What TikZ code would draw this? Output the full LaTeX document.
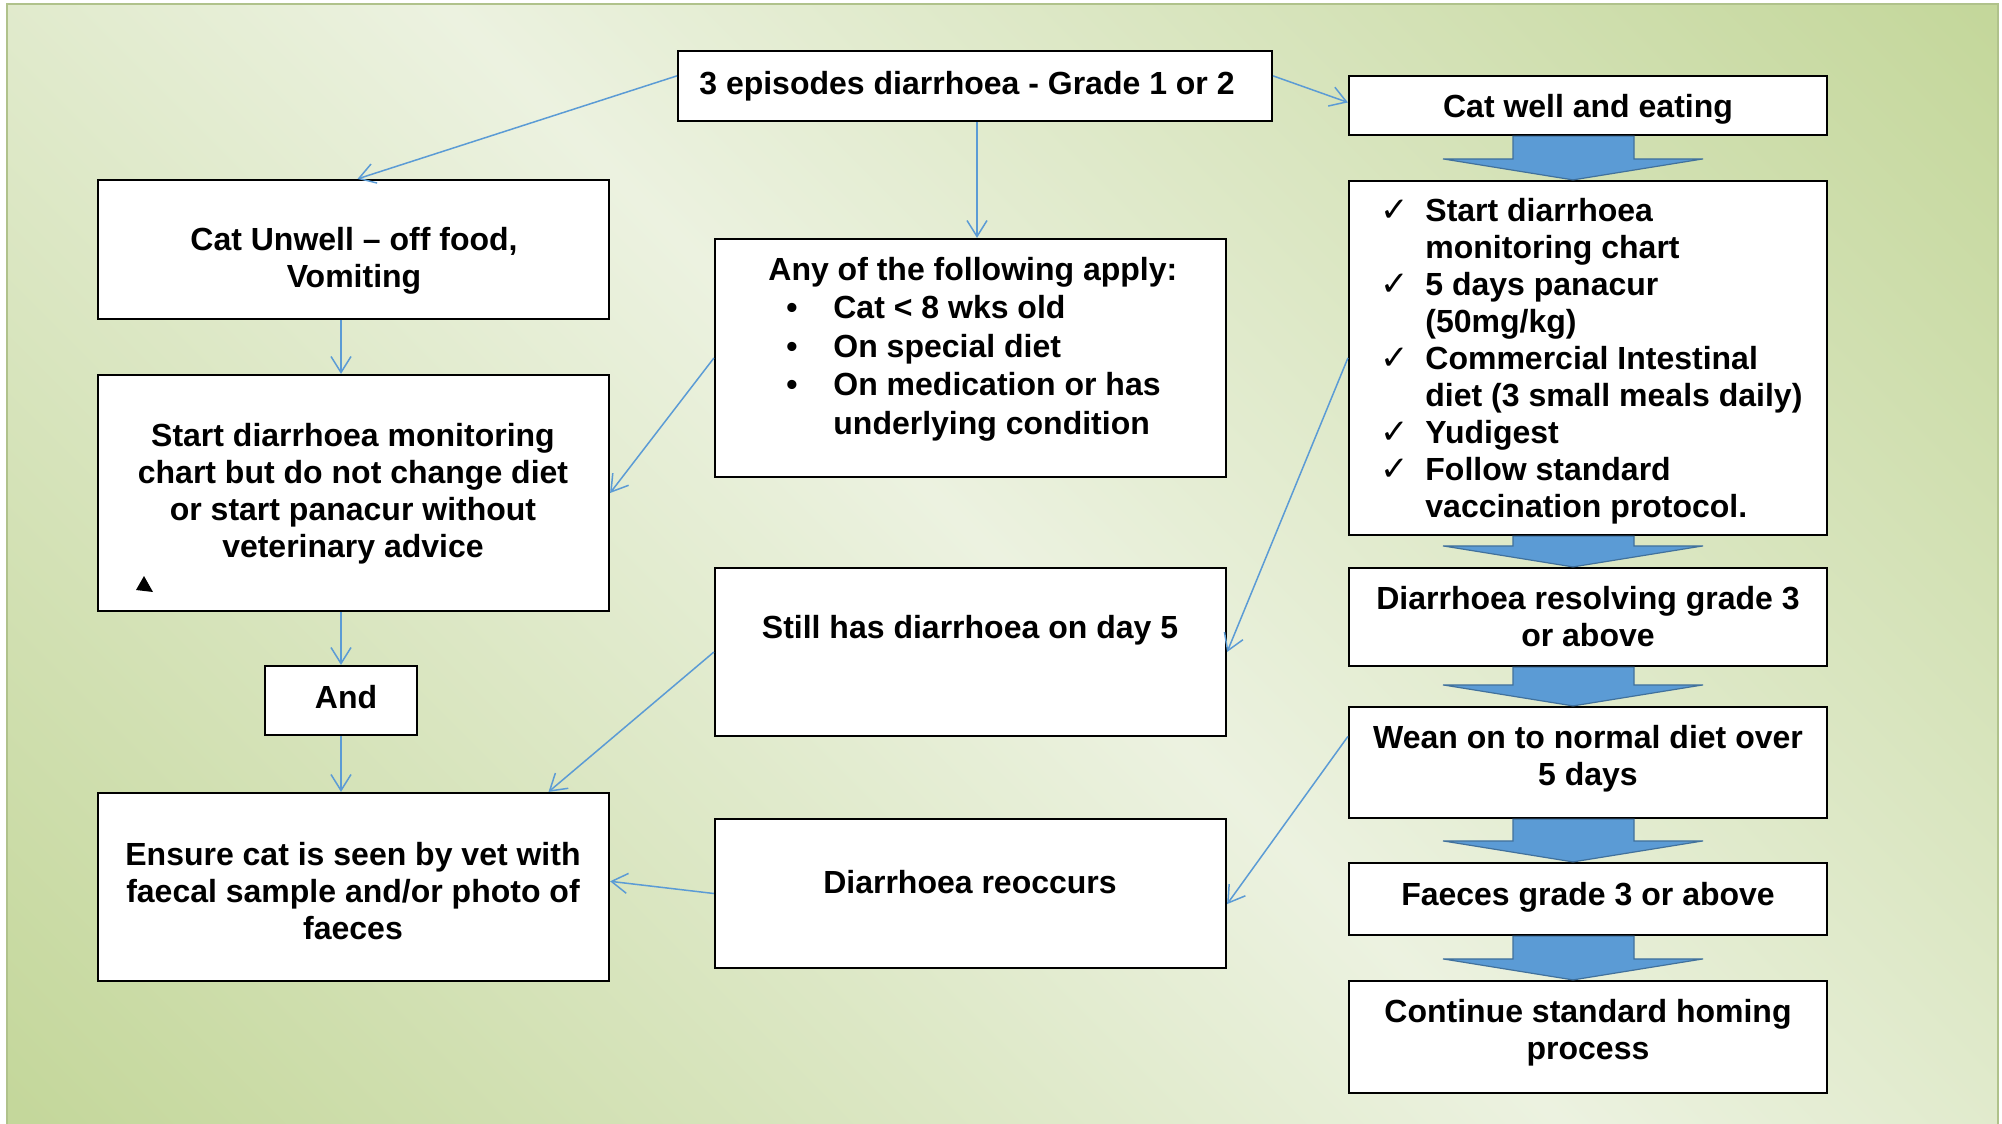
\documentclass[tikz,border=0pt]{standalone}
\usepackage{fontspec}
\setmainfont{Liberation Sans}
\newfontfamily\checkfont{DejaVu Sans}
\usetikzlibrary{arrows.meta,calc}
\definecolor{bgG}{RGB}{196,215,155}
\definecolor{bgL}{RGB}{236,242,224}
\definecolor{lineblue}{RGB}{91,155,213}
\definecolor{blockfill}{RGB}{91,155,213}
\definecolor{blockedge}{RGB}{65,113,156}
\pgfdeclarehorizontalshading{bgshade}{100bp}{color(0bp)=(bgG); color(15bp)=(bgG); color(50bp)=(bgL); color(85bp)=(bgG); color(100bp)=(bgG)}
\tikzset{
  box/.style={draw=black, line width=1.1pt, fill=white, inner sep=0pt},
  sz/.style 2 args={minimum width=#1*0.5pt, minimum height=#2*0.5pt},
  txt/.style={font=\fontsize{16}{18.5}\selectfont\bfseries, align=center, inner sep=0pt},
  conn/.style={draw=lineblue, line width=0.75pt, -{Straight Barb[length=8pt,width=10pt]}},
  barrow/.style={fill=blockfill, draw=blockedge, line width=0.6pt, line join=miter}
}
\newcommand\blockarr[2]{%
  \filldraw[barrow] ($(#1.south)+(-75,0)$) -- ($(#2.north)+(-75,-21)$) -- ($(#2.north)+(-145,-21)$) -- ($(#2.north)+(-15,0)$) -- ($(#2.north)+(115,-21)$) -- ($(#2.north)+(46,-21)$) -- ($(#1.south)+(46,0)$) -- cycle;}
\newcommand\ck{\makebox[22.5pt][l]{\checkfont\mdseries\fontsize{17}{18.5}\selectfont ✓}}
\begin{document}
\begin{tikzpicture}[x=0.5pt,y=-0.5pt]
\useasboundingbox (0,0) rectangle (2002,1124);
\fill[white] (0,0) rectangle (2002,1124);
\shade[shading=bgshade, shading angle=45] (7,4) rectangle (1998,1124);
\draw[bgG!90!black, line width=1pt] (7,1124) -- (7,4) -- (1998,4) -- (1998,1124);

% boxes
\node[box, sz={594}{70}]  (top)    at (975,86) {};
\node[box, sz={478}{59}]  (catwell) at (1588,105.5) {};
\node[box, sz={478}{354}] (check)  at (1588,358) {};
\node[box, sz={478}{98}]  (resolv) at (1588,617) {};
\node[box, sz={478}{111}] (wean)   at (1588,762.5) {};
\node[box, sz={478}{72}]  (faeces) at (1588,899) {};
\node[box, sz={478}{112}] (cont)   at (1588,1037) {};
\node[box, sz={511}{139}] (unwell) at (353.5,249.5) {};
\node[box, sz={511}{236}] (startl) at (353.5,493) {};
\node[box, sz={152}{69}]  (andbox) at (341,700.5) {};
\node[box, sz={511}{188}] (ensure) at (353.5,887) {};
\node[box, sz={511}{238}] (any)    at (970.5,358) {};
\node[box, sz={511}{168}] (still)  at (970.5,652) {};
\node[box, sz={511}{149}] (reocc)  at (970.5,893.5) {};

% block arrows
\blockarr{catwell}{check}
\blockarr{check}{resolv}
\blockarr{resolv}{wean}
\blockarr{wean}{faeces}
\blockarr{faeces}{cont}

% texts
\node[txt] (ttop) at (967,86) {3 episodes diarrhoea - Grade 1 or 2};
\node[txt] (tcatwell) at (1588,109) {Cat well and eating};
\node[txt] (tunwell) at (354,261) {Cat Unwell – off food,\\Vomiting};
\node[txt] (tstartl) at (353,494) {Start diarrhoea monitoring\\chart but do not change diet\\or start panacur without\\veterinary advice};
\node[txt] (tand) at (346,697) {And};
\node[txt] (tensure) at (353,891) {Ensure cat is seen by vet with\\faecal sample and/or photo of\\faeces};
\node[txt] (tstill) at (970,630) {Still has diarrhoea on day 5};
\node[txt] (treocc) at (970,882) {Diarrhoea reoccurs};
\node[txt] (tresolv) at (1588,617) {Diarrhoea resolving grade 3\\or above};
\node[txt] (twean) at (1588,759) {Wean on to normal diet over\\5 days};
\node[txt] (tfaeces) at (1588,897) {Faeces grade 3 or above};
\node[txt] (tcont) at (1588,1033) {Continue standard homing\\process};
\node[txt, font=\fontsize{16}{19.2}\selectfont\bfseries, align=left, anchor=north west] (tany) at (768,257)
  {Any of the following apply:\\
   \hspace*{9pt}\makebox[23.5pt][l]{•}Cat < 8 wks old\\
   \hspace*{9pt}\makebox[23.5pt][l]{•}On special diet\\
   \hspace*{9pt}\makebox[23.5pt][l]{•}On medication or has\\
   \hspace*{32.5pt}underlying condition};
\node[txt, align=left, anchor=north west] (tcheck) at (1380,198)
  {\ck Start diarrhoea\\
   \hspace*{22.5pt}monitoring chart\\
   \ck 5 days panacur\\
   \hspace*{22.5pt}(50mg/kg)\\
   \ck Commercial Intestinal\\
   \hspace*{22.5pt}diet (3 small meals daily)\\
   \ck Yudigest\\
   \ck Follow standard\\
   \hspace*{22.5pt}vaccination protocol.};

% small triangle mark
\fill[black] (136,590) -- (144,576) -- (153,592) -- cycle;

% connectors
\draw[conn] ($(top.north west)!0.36!(top.south west)$) -- ($(unwell.north)+(4,0)$);
\draw[conn] ($(top.north east)!0.36!(top.south east)$) -- ($(catwell.north west)!0.45!(catwell.south west)$);
\draw[conn] ($(top.south)+(2,0)$) -- ($(any.north)+(6.5,0)$);
\draw[conn] (andbox.north |- unwell.south) -- (andbox.north |- startl.north);
\draw[conn] (andbox.north |- startl.south) -- (andbox.north);
\draw[conn] (andbox.south) -- (andbox.south |- ensure.north);
\draw[conn] (any.west) -- (startl.east);
\draw[conn] (still.west) -- ($(ensure.north west)!0.88!(ensure.north east)$);
\draw[conn] (reocc.west) -- ($(ensure.north east)!0.47!(ensure.south east)$);
\draw[conn] (check.west) -- (still.east);
\draw[conn] ($(wean.north west)!0.27!(wean.south west)$) -- ($(reocc.north east)!0.57!(reocc.south east)$);
\end{tikzpicture}
\end{document}
